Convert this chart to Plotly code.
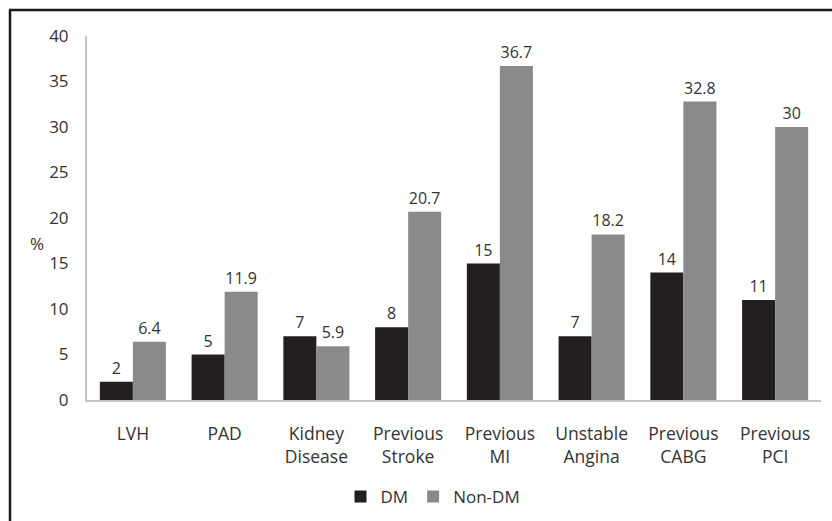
import plotly.graph_objects as go

categories = ["LVH", "PAD", "Kidney<br>Disease", "Previous<br>Stroke", "Previous<br>MI",
              "Unstable<br>Angina", "Previous<br>CABG", "Previous<br>PCI"]
dm_values = [2, 5, 7, 8, 15, 7, 14, 11]
non_dm_values = [6.4, 11.9, 5.9, 20.7, 36.7, 18.2, 32.8, 30]
y_ticks = [0, 5, 10, 15, 20, 25, 30, 35, 40]

W, H = 832, 521
ML, MR, MT, MB = 87, 11, 36, 121
PW, PH = W - ML - MR, H - MT - MB

FONT = "Open Sans"
TXT = "#333333"

fig = go.Figure()
fig.add_trace(go.Bar(name="DM", x=categories, y=dm_values, marker_color="#231f20",
                     marker_line_width=0, text=[str(v) for v in dm_values],
                     textposition="outside", cliponaxis=False,
                     textfont=dict(family=FONT, size=16, color=TXT)))
fig.add_trace(go.Bar(name="Non-DM", x=categories, y=non_dm_values, marker_color="#8a8a8d",
                     marker_line_width=0, text=[str(v) for v in non_dm_values],
                     textposition="outside", cliponaxis=False,
                     textfont=dict(family=FONT, size=16, color=TXT)))


def px_x(p):
    return (p - ML) / PW


def px_y(p):
    return (H - MB - p) / PH


# frame lines on the left and top edges of the figure
fig.add_shape(type="line", xref="paper", yref="paper", x0=px_x(10), x1=px_x(10),
              y0=px_y(10), y1=px_y(H + 5), line=dict(color="#1a1a1a", width=2.5))
fig.add_shape(type="line", xref="paper", yref="paper", x0=px_x(9), x1=px_x(W + 5),
              y0=px_y(10), y1=px_y(10), line=dict(color="#1a1a1a", width=2.5))

fig.add_annotation(text="%", xref="paper", yref="paper", x=px_x(37), y=px_y(243),
                   xanchor="center", yanchor="middle",
                   showarrow=False, font=dict(family=FONT, size=17, color=TXT))

fig.update_layout(
    width=W, height=H,
    margin=dict(l=ML, r=MR, t=MT, b=MB, autoexpand=False),
    paper_bgcolor="white", plot_bgcolor="white",
    barmode="group", bargap=0.28, bargroupgap=0,
    font=dict(family=FONT, size=17, color=TXT),
    showlegend=True,
    legend=dict(orientation="h", x=px_x(433), xanchor="center", y=px_y(497), yanchor="middle",
                font=dict(family=FONT, size=17, color=TXT), itemwidth=30,
                tracegroupgap=0),
)
fig.update_xaxes(showline=True, linecolor="#c4c4c4", linewidth=2, ticks="",
                 showgrid=False, tickfont=dict(family=FONT, size=17.5, color=TXT),
                 ticklabelstandoff=17, automargin=False)
fig.update_yaxes(range=[0, 40], tickvals=y_ticks, showline=True, linecolor="#c4c4c4",
                 linewidth=2, showgrid=False, zeroline=False, ticks="",
                 ticklabelstandoff=13, automargin=False,
                 tickfont=dict(family=FONT, size=17, color=TXT))

fig.write_html("out.html")
